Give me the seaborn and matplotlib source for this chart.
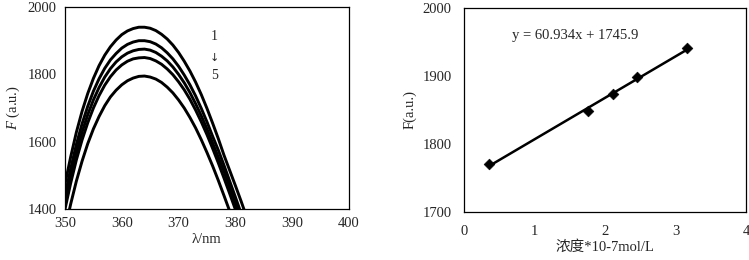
import numpy as np
import pandas as pd
import seaborn as sns
import matplotlib.pyplot as plt

# emission spectra, curves 1-5 (1 nm steps)
wavelength = list(range(350, 385))
curve1 = [1475, 1555, 1628, 1690, 1743, 1788, 1826, 1857, 1882, 1902, 1918, 1929, 1936, 1940, 1940, 1937, 1930, 1919,
          1905, 1887, 1865, 1839, 1810, 1777, 1740, 1699, 1655, 1609, 1560, 1515, 1470, 1424, 1376, 1326, 1275]
curve2 = [1440, 1520, 1592, 1653, 1705, 1750, 1787, 1818, 1843, 1862, 1878, 1889, 1896, 1900, 1900, 1897, 1890, 1879,
          1864, 1846, 1824, 1798, 1769, 1736, 1699, 1659, 1616, 1575, 1530, 1483, 1436, 1388, 1338, 1288, 1236]
curve3 = [1420, 1498, 1568, 1628, 1680, 1724, 1761, 1792, 1817, 1837, 1852, 1863, 1870, 1874, 1875, 1872, 1865, 1854,
          1840, 1822, 1800, 1775, 1746, 1713, 1677, 1638, 1596, 1554, 1512, 1465, 1418, 1370, 1320, 1270, 1218]
curve4 = [1400, 1477, 1546, 1605, 1656, 1700, 1737, 1768, 1793, 1813, 1828, 1839, 1846, 1849, 1850, 1847, 1840, 1830,
          1816, 1799, 1778, 1754, 1726, 1694, 1659, 1621, 1580, 1537, 1492, 1446, 1399, 1350, 1300, 1250, 1200]
curve5 = [1340, 1415, 1483, 1542, 1594, 1638, 1675, 1707, 1733, 1753, 1769, 1781, 1789, 1794, 1795, 1792, 1786, 1776,
          1762, 1745, 1724, 1700, 1672, 1641, 1606, 1568, 1528, 1485, 1440, 1394, 1347, 1299, 1250, 1200, 1150]

# calibration points
conc = [0.35, 1.76, 2.11, 2.45, 3.17]
intensity = [1770, 1848, 1873, 1898, 1941]
slope, intercept = 60.934, 1745.9

sns.set_style("white")
plt.rcParams['font.family'] = ['Liberation Serif', 'Noto Sans CJK SC']
plt.rcParams['mathtext.fontset'] = 'custom'
plt.rcParams['mathtext.it'] = 'Liberation Serif:italic'
plt.rcParams['mathtext.rm'] = 'Liberation Serif'
plt.rcParams['font.size'] = 10.5

fig = plt.figure(figsize=(7.49, 2.6), dpi=100)
ax1 = fig.add_axes([0.0868, 0.196, 0.379, 0.777])
ax2 = fig.add_axes([0.6195, 0.1846, 0.3765, 0.785])

spectra = pd.DataFrame({'wavelength': wavelength * 5,
                        'F': curve1 + curve2 + curve3 + curve4 + curve5,
                        'curve': sum([[str(i)] * len(wavelength) for i in range(1, 6)], [])})
sns.lineplot(data=spectra, x='wavelength', y='F', units='curve', estimator=None,
             color='black', linewidth=2.1, ax=ax1, legend=False)
ax1.set_xlim(350, 400)
ax1.set_ylim(1400, 2000)
ax1.set_xticks([350, 360, 370, 380, 390, 400])
ax1.set_yticks([1400, 1600, 1800, 2000])
ax1.set_xlabel('λ/nm', labelpad=2)
ax1.set_ylabel('$F$ (a.u.)', labelpad=4)
ax1.tick_params(direction='in', length=3, width=0.8, pad=6)
ax1.text(376.3, 1912, '1', ha='center', va='center', fontsize=10)
ax1.text(376.3, 1850, '↓', ha='center', va='center', fontsize=8, family='DejaVu Sans')
ax1.text(376.3, 1797, '5', ha='center', va='center', fontsize=10)

trend_x = np.array([conc[0], conc[-1]])
sns.lineplot(x=trend_x, y=slope * trend_x + intercept, color='black', linewidth=1.8, ax=ax2)
sns.scatterplot(x=conc, y=intensity, marker='D', color='black', s=30, edgecolor='black', ax=ax2, zorder=3)
ax2.set_xlim(0, 4)
ax2.set_ylim(1700, 2000)
ax2.set_xticks([0, 1, 2, 3, 4])
ax2.set_yticks([1700, 1800, 1900, 2000])
ax2.set_xlabel('浓度*10-7mol/L', labelpad=2)
ax2.set_ylabel('F(a.u.)', labelpad=4)
ax2.tick_params(direction='out', length=3, width=0.8, pad=6)
ax2.text(0.68, 1960, 'y = 60.934x + 1745.9', ha='left', va='center', fontsize=10.5)

for ax in (ax1, ax2):
    for s in ax.spines.values():
        s.set_color('black')
        s.set_linewidth(0.9)

fig.savefig('out.png', dpi=100)
